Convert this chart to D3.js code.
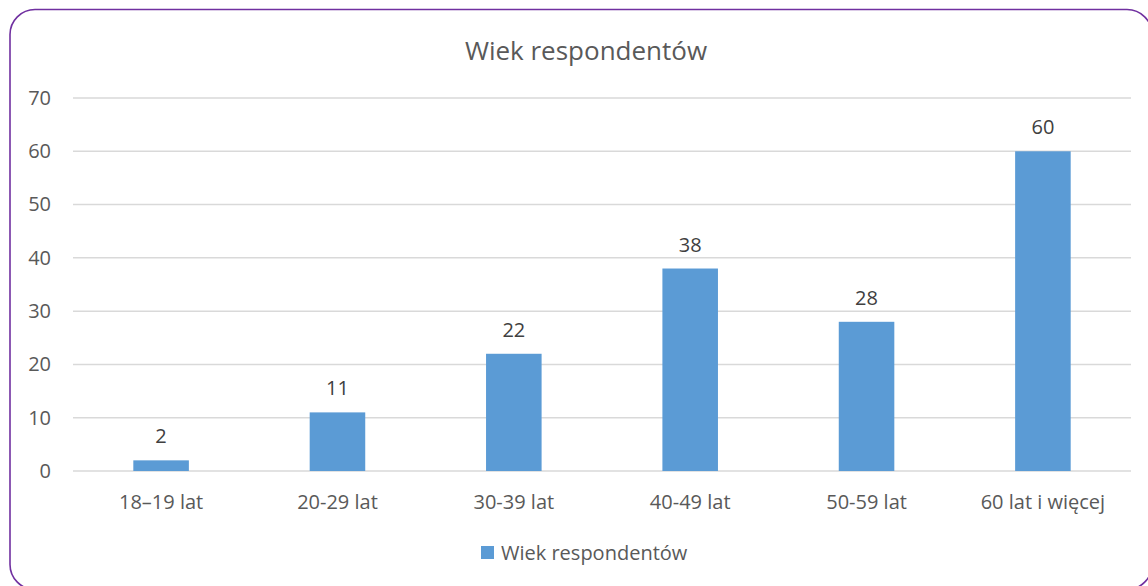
<!DOCTYPE html>
<html>
<head>
<meta charset="utf-8">
<script src="https://cdn.jsdelivr.net/npm/d3@7"></script>
<style>
  body { margin: 0; background: #fff; }
  text { font-family: "Open Sans", "Liberation Sans", sans-serif; }
</style>
</head>
<body>
<div id="chart"></div>
<script>
// data
var categories = ["18–19 lat", "20-29 lat", "30-39 lat", "40-49 lat", "50-59 lat", "60 lat i więcej"];
var values = [2, 11, 22, 38, 28, 60];
var yTicks = [0, 10, 20, 30, 40, 50, 60, 70];
var seriesName = "Wiek respondentów";
var chartTitle = "Wiek respondentów";

var W = 1148, H = 586;
var margin = { left: 73, right: 17, top: 98, bottom: 115 };
var width = W - margin.left - margin.right;
var height = H - margin.top - margin.bottom;

var svg = d3.select("#chart").append("svg")
    .attr("width", W)
    .attr("height", H);

// frame with rounded corners (runs off right/bottom edge)
svg.append("rect")
    .attr("x", 10).attr("y", 9.5)
    .attr("width", 1142).attr("height", 580)
    .attr("rx", 25).attr("ry", 25)
    .attr("fill", "#fff")
    .attr("stroke", "#7030A0")
    .attr("stroke-width", 1.6);

svg.append("text")
    .attr("x", 586).attr("y", 60)
    .attr("text-anchor", "middle")
    .attr("font-size", 26)
    .attr("fill", "#595959")
    .text(chartTitle);

var g = svg.append("g")
    .attr("class", "main-group")
    .attr("transform", "translate(" + margin.left + "," + margin.top + ")");

var x = d3.scaleBand()
    .domain(categories)
    .range([0, width])
    .paddingInner(0.685)
    .paddingOuter(0.342);

var y = d3.scaleLinear()
    .domain([0, 70])
    .range([height, 0]);

// gridlines
g.append("g")
    .attr("class", "grid")
    .selectAll("line")
    .data(yTicks)
    .enter().append("line")
    .attr("x1", 0).attr("x2", width)
    .attr("y1", function(d) { return y(d); })
    .attr("y2", function(d) { return y(d); })
    .attr("stroke", "#d9d9d9")
    .attr("stroke-width", 1.5);

// y axis labels
var yAxis = g.append("g")
    .attr("class", "myYaxis")
    .call(d3.axisLeft(y).tickValues(yTicks).tickSize(0).tickPadding(22));
yAxis.select(".domain").remove();
yAxis.selectAll("text")
    .attr("font-size", 20)
    .attr("fill", "#595959")
    .style("font-family", "'Open Sans', sans-serif");

// x axis labels
var xAxis = g.append("g")
    .attr("class", "myXaxis")
    .attr("transform", "translate(0," + height + ")")
    .call(d3.axisBottom(x).tickSize(0).tickPadding(24));
xAxis.select(".domain").remove();
xAxis.selectAll("text")
    .attr("font-size", 20)
    .attr("fill", "#595959")
    .style("font-family", "'Open Sans', sans-serif");

// bars
g.selectAll("rect.bar")
    .data(values)
    .enter().append("rect")
    .attr("class", "bar")
    .attr("x", function(d, i) { return x(categories[i]); })
    .attr("y", function(d) { return y(d); })
    .attr("width", x.bandwidth())
    .attr("height", function(d) { return height - y(d); })
    .attr("fill", "#5B9BD5");

// data labels
g.selectAll("text.lbl")
    .data(values)
    .enter().append("text")
    .attr("class", "lbl")
    .attr("x", function(d, i) { return x(categories[i]) + x.bandwidth() / 2; })
    .attr("y", function(d) { return y(d) - 17; })
    .attr("text-anchor", "middle")
    .attr("font-size", 20)
    .attr("fill", "#404040")
    .text(function(d) { return d; });

// legend
var leg = svg.append("g").attr("transform", "translate(481,546)");
leg.append("rect")
    .attr("width", 13).attr("height", 13)
    .attr("fill", "#5B9BD5");
leg.append("text")
    .attr("x", 20).attr("y", 14)
    .attr("font-size", 20)
    .attr("fill", "#595959")
    .text(seriesName);
</script>
</body>
</html>
